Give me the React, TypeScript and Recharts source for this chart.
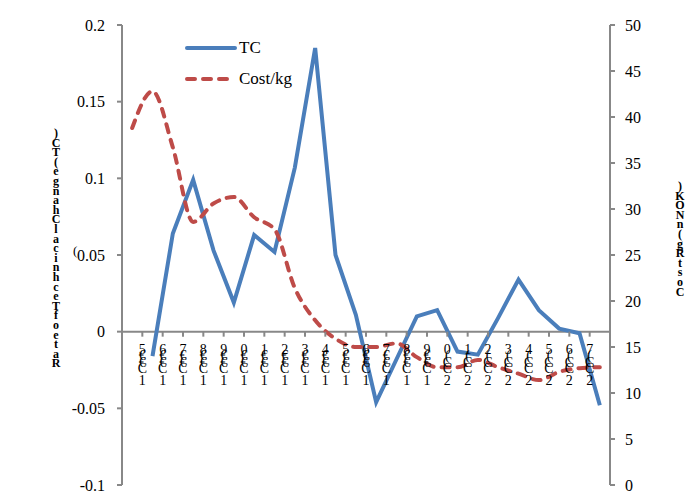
import React from "react";
import {
  LineChart,
  Line,
  XAxis,
  YAxis,
  ReferenceLine,
  Label,
} from "recharts";

// years on the category axis (first one has no printed label)
const years = [
  "1984", "1985", "1986", "1987", "1988", "1989", "1990", "1991",
  "1992", "1993", "1994", "1995", "1996", "1997", "1998", "1999",
  "2000", "2001", "2002", "2003", "2004", "2005", "2006", "2007",
];

// rate of technical change (left axis)
const tcValues = [
  null, -0.016, 0.064, 0.099, 0.053, 0.019, 0.063, 0.052,
  0.107, 0.185, 0.05, 0.011, -0.046, -0.018, 0.01, 0.014,
  -0.013, -0.015, 0.009, 0.034, 0.014, 0.002, -0.001, -0.048,
];

// cost per kg (right axis)
const costValues = [
  38.8, 42.8, 36.7, 28.6, 30.6, 31.3, 29.1, 27.8,
  21.4, 17.9, 15.9, 15.0, 15.0, 15.4, 13.9, 12.8,
  12.8, 13.6, 12.8, 12.1, 11.4, 12.3, 12.7, 12.8,
];

const leftTicks = [-0.1, -0.05, 0, 0.05, 0.1, 0.15, 0.2];
const rightTicks = [0, 5, 10, 15, 20, 25, 30, 35, 40, 45, 50];

// garbled vertical titles as they appear in the original
const leftTitle = ")CT(egnahClacinhceTfoetaR";
const rightTitle = ")KONn(gRtsoC";

const data = years.map((y, i) => ({
  year: y,
  tc: tcValues[i],
  cost: costValues[i],
}));

const W = 694;
const H = 501;
const M = { top: 25, right: 24, bottom: 15, left: 62 };
const AXIS_W = 60;
const plotLeft = M.left + AXIS_W;
const plotRight = W - M.right - AXIS_W;
const plotTop = M.top;
const plotBottom = H - M.bottom - 1;
const band = (plotRight - plotLeft) / years.length;
const zeroY = plotTop + (0.2 / 0.3) * (plotBottom - plotTop);

const FONT = "'Liberation Serif', 'Times New Roman', serif";
const GRAY = "#888888";
const BLUE = "#4a7ebb";
const RED = "#be4b48";

// year labels came out as stacked glyphs, one column per category boundary
function YearTick(props: any) {
  const { x, payload, index } = props;
  if (index === 0) return <g />;
  const yr: string = payload.value;
  const bx = x - band / 2;
  const mid = yr[0] === "1" ? ["€", "€", "C"] : ["(", "C", "C"];
  const rows = [yr[3], ...mid];
  return (
    <g>
      <line x1={bx} y1={zeroY} x2={bx} y2={zeroY + 5} stroke={GRAY} strokeWidth={2} />
      <text textAnchor="middle" fontSize={14} fontFamily={FONT} fill="#000">
        {rows.map((c, i) => (
          <tspan key={i} x={bx} y={zeroY + 22 + i * 6.5}>
            {c}
          </tspan>
        ))}
        <tspan x={bx} y={zeroY + 53}>
          {yr[0]}
        </tspan>
      </text>
    </g>
  );
}

function StackedTitle({ chars, x, y, step }: { chars: string; x: number; y: number; step: number }) {
  return (
    <text fontSize={12} fontWeight="bold" fontFamily={FONT} fill="#000" textAnchor="middle">
      {chars.split("").map((c, i) => (
        <tspan key={i} x={x} y={y + i * step}>
          {c}
        </tspan>
      ))}
    </text>
  );
}

function LegendBox() {
  const row = (label: string, color: string, dash?: string) => (
    <div style={{ display: "flex", alignItems: "center", height: 31 }}>
      <svg width={52} height={10}>
        <line x1={2} y1={5} x2={50} y2={5} stroke={color} strokeWidth={4} strokeDasharray={dash} strokeLinecap="round" />
      </svg>
      <span style={{ fontFamily: FONT, fontSize: 17, marginLeft: 2 }}>{label}</span>
    </div>
  );
  return (
    <div style={{ position: "absolute", left: 185, top: 32 }}>
      {row("TC", BLUE)}
      {row("Cost/kg", RED, "8 8")}
    </div>
  );
}

export default function App() {
  return (
    <div style={{ position: "absolute", left: 0, top: 0, width: W, height: H, background: "#fff" }}>
      <LineChart width={W} height={H} data={data} margin={M}>
        <XAxis
          dataKey="year"
          height={1}
          axisLine={false}
          tickLine={false}
          interval={0}
          padding={{ left: band / 2, right: band / 2 }}
          tick={(p: any) => <YearTick {...p} />}
        />
        <YAxis
          yAxisId="left"
          width={AXIS_W}
          domain={[-0.1, 0.2]}
          ticks={leftTicks}
          allowDataOverflow
          stroke={GRAY}
          strokeWidth={2}
          tickSize={5}
          tickMargin={12}
          tick={{ fontSize: 16, fontFamily: FONT, fill: "#000" }}
        >
          <Label content={() => <StackedTitle chars={leftTitle} x={56} y={137} step={9.6} />} />
        </YAxis>
        <YAxis
          yAxisId="right"
          orientation="right"
          width={AXIS_W}
          domain={[0, 50]}
          ticks={rightTicks}
          stroke={GRAY}
          strokeWidth={2}
          tickSize={5}
          tickMargin={10}
          tick={{ fontSize: 16, fontFamily: FONT, fill: "#000", textAnchor: "start" }}
        >
          <Label content={() => <StackedTitle chars={rightTitle} x={680} y={190} step={9.6} />} />
        </YAxis>
        <ReferenceLine yAxisId="left" y={0} stroke={GRAY} strokeWidth={2} />
        <Line
          yAxisId="left"
          dataKey="tc"
          name="TC"
          type="linear"
          stroke={BLUE}
          strokeWidth={4}
          dot={false}
          connectNulls={false}
          isAnimationActive={false}
        />
        <Line
          yAxisId="right"
          dataKey="cost"
          name="Cost/kg"
          type="monotone"
          stroke={RED}
          strokeWidth={4}
          strokeDasharray="8 8"
          strokeLinecap="round"
          dot={false}
          isAnimationActive={false}
        />
      </LineChart>
      <LegendBox />
      <div style={{ position: "absolute", left: 73, top: 243, fontFamily: FONT, fontSize: 13 }}>(</div>
    </div>
  );
}
